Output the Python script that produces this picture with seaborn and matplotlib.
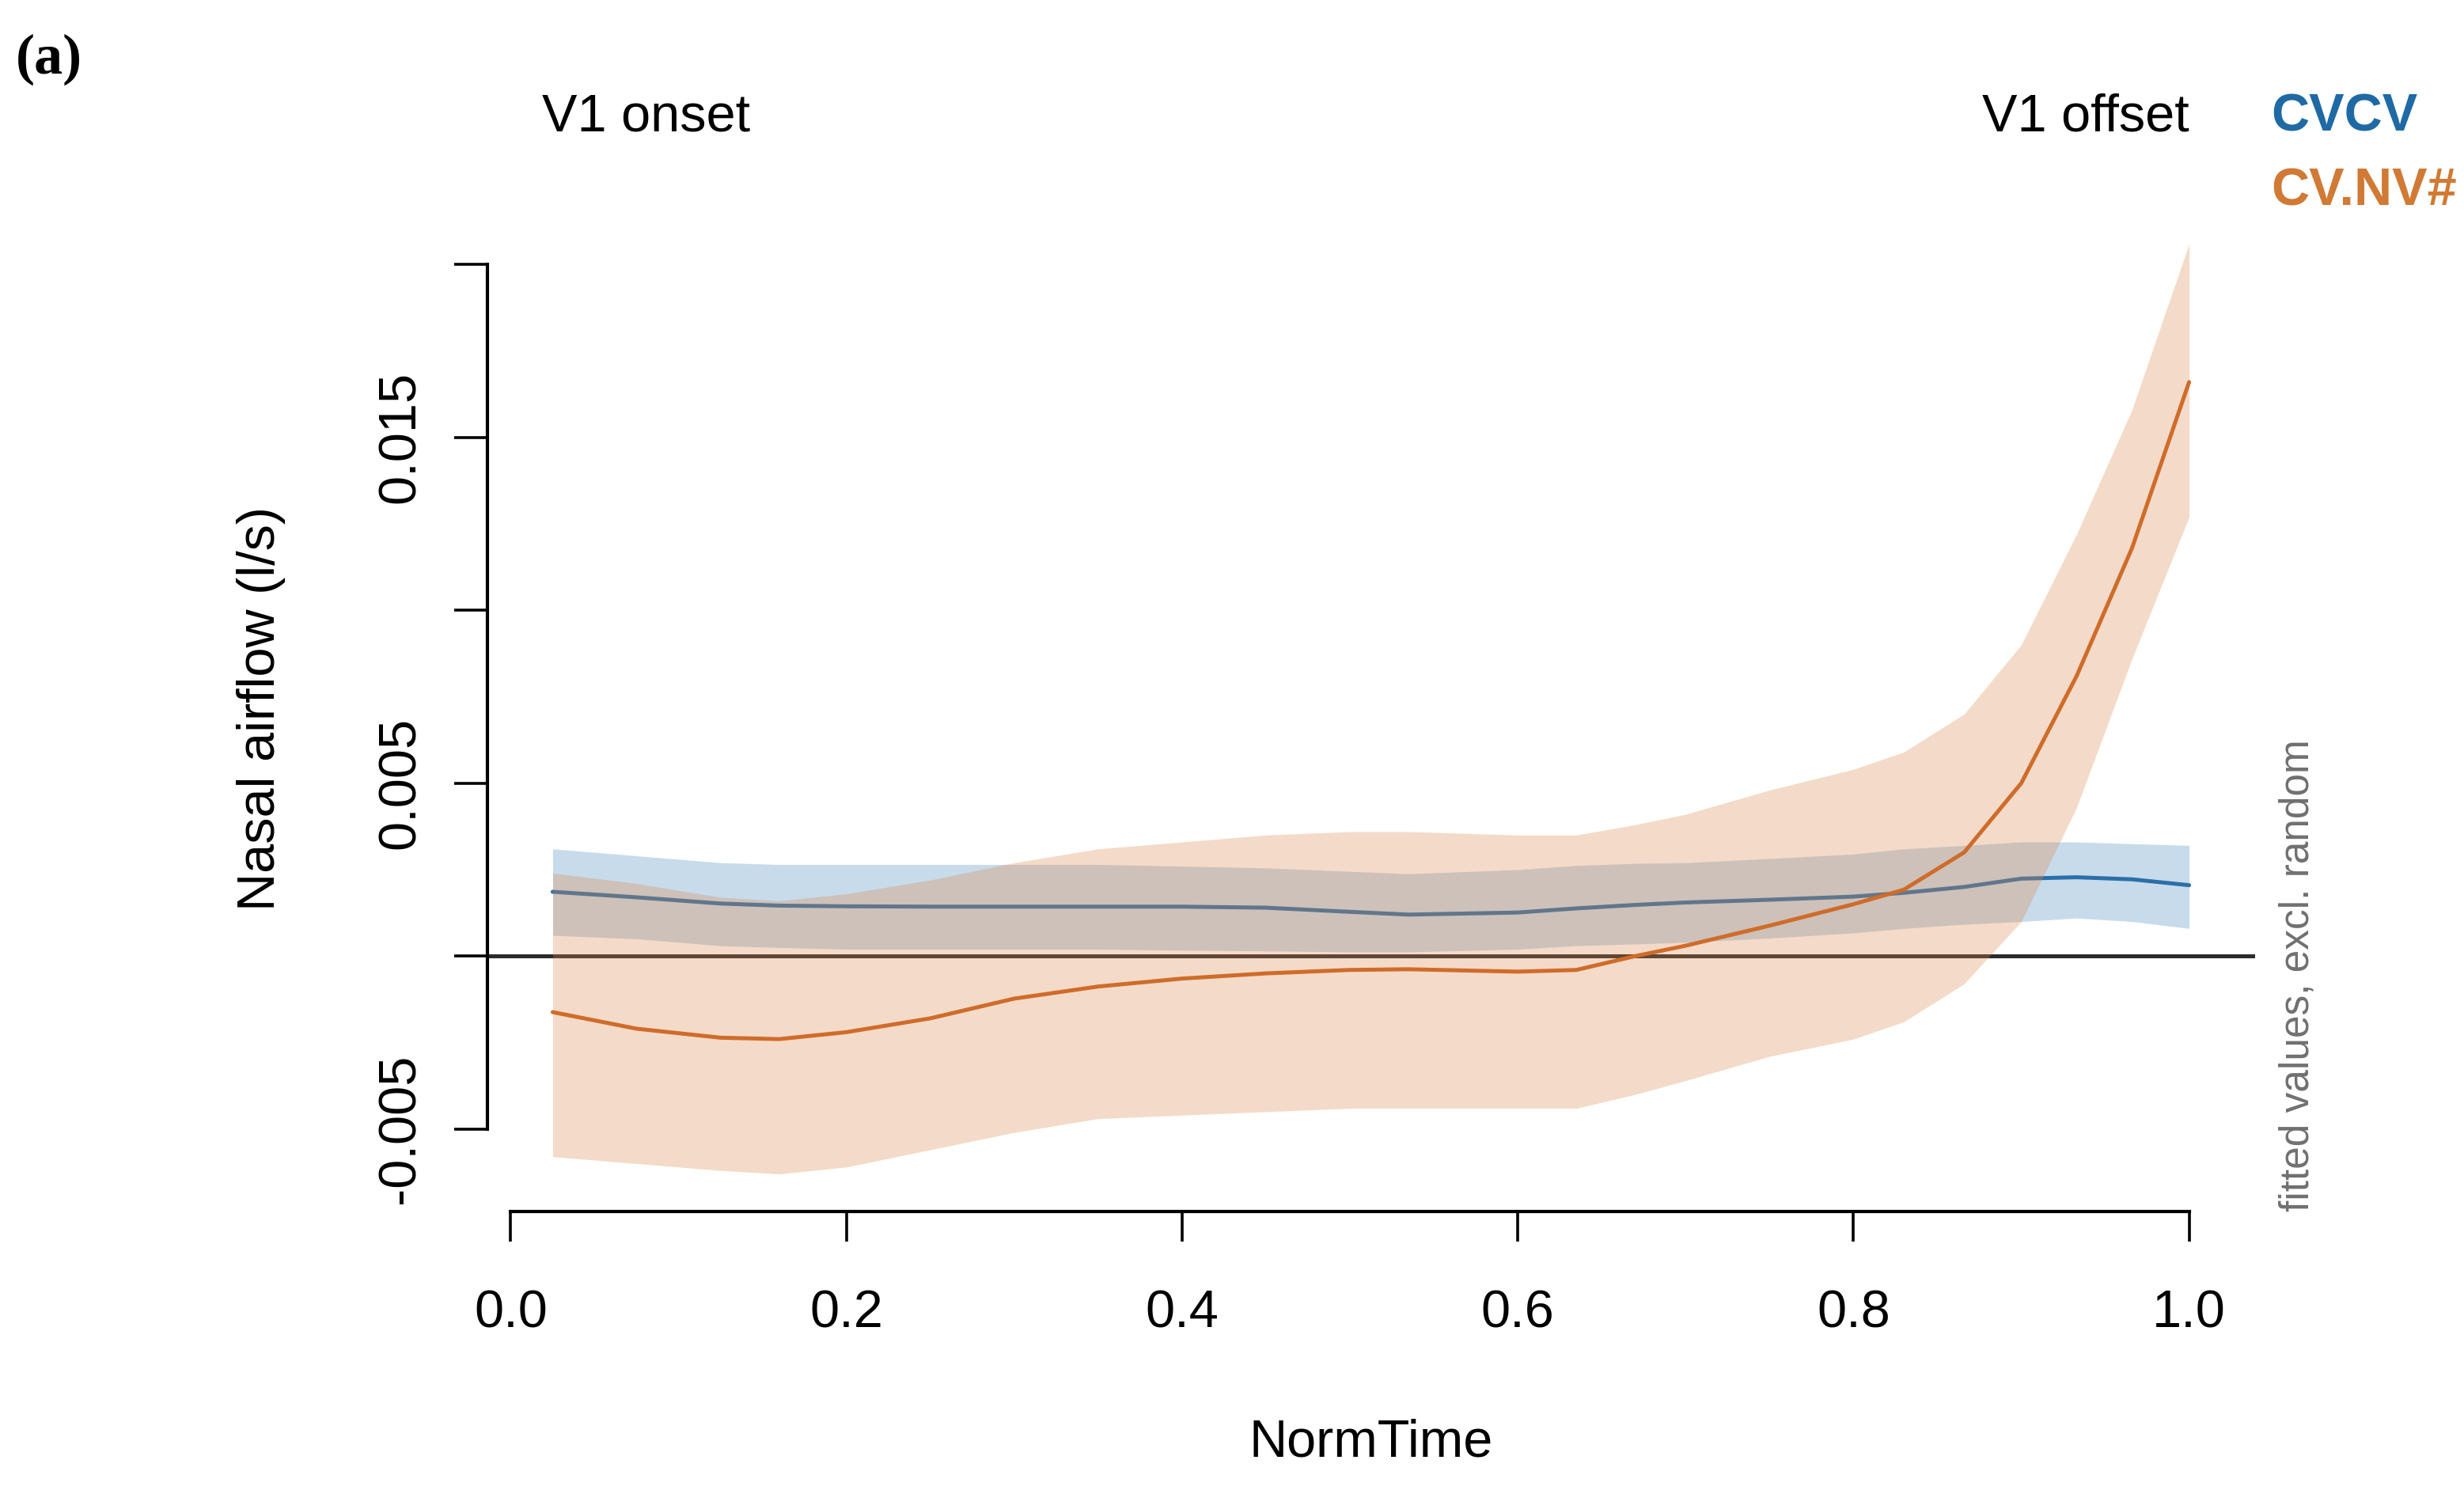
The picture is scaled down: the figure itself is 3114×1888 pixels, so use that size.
"""
Fitted nasal airflow over normalised V1 time, CVCV vs CV.NV# (GAMM smooths,
fitted values excluding random effects, with 95% CI bands).
"""
import numpy as np
import pandas as pd
import matplotlib
matplotlib.use("Agg")
import matplotlib.pyplot as plt
import seaborn as sns

# values
norm_time = [0.025, 0.075, 0.125, 0.16, 0.2, 0.25, 0.3, 0.35, 0.4, 0.45, 0.5, 0.535,
             0.6, 0.635, 0.67, 0.7, 0.75, 0.8, 0.83, 0.866, 0.9, 0.933, 0.966, 1.0]

cvcv_fit = [0.00186, 0.0017, 0.00152, 0.00146, 0.00144, 0.00143, 0.00143, 0.00143,
            0.00143, 0.0014, 0.00128, 0.0012, 0.00126, 0.00138, 0.00148, 0.00155,
            0.00163, 0.00172, 0.00183, 0.002, 0.00224, 0.00228, 0.00222, 0.00205]
cvcv_upper = [0.0031, 0.0029, 0.0027, 0.00265, 0.00265, 0.00265, 0.00265, 0.00265,
              0.0026, 0.00255, 0.00245, 0.00238, 0.0025, 0.00262, 0.00268, 0.0027,
              0.00282, 0.00295, 0.0031, 0.0032, 0.0033, 0.0033, 0.00325, 0.0032]
cvcv_lower = [0.0006, 0.0005, 0.0003, 0.00025, 0.0002, 0.0002, 0.0002, 0.0002,
              0.00017, 0.00015, 0.00012, 0.00012, 0.0002, 0.0003, 0.00035, 0.0004,
              0.00052, 0.00067, 0.0008, 0.00092, 0.001, 0.0011, 0.001, 0.0008]

cvnv_fit = [-0.00162, -0.0021, -0.00236, -0.0024, -0.0022, -0.0018, -0.00123, -0.00088,
            -0.00065, -0.0005, -0.0004, -0.00038, -0.00045, -0.0004, 0.0, 0.0003,
            0.00088, 0.0015, 0.00192, 0.003, 0.005, 0.0081, 0.0118, 0.0166]
cvnv_upper = [0.0024, 0.0021, 0.0017, 0.0016, 0.0018, 0.0022, 0.0027, 0.0031,
              0.0033, 0.0035, 0.0036, 0.0036, 0.0035, 0.0035, 0.0038, 0.0041,
              0.0048, 0.0054, 0.0059, 0.007, 0.009, 0.0122, 0.0158, 0.0206]
cvnv_lower = [-0.0058, -0.006, -0.0062, -0.0063, -0.0061, -0.0056, -0.0051, -0.0047,
              -0.0046, -0.0045, -0.0044, -0.0044, -0.0044, -0.0044, -0.004, -0.0036,
              -0.0029, -0.0024, -0.0019, -0.0008, 0.001, 0.0043, 0.0086, 0.0127]

y_ticks = [-0.005, 0.0, 0.005, 0.01, 0.015, 0.02]
y_tick_labels = ["-0.005", "", "0.005", "", "0.015", ""]
x_ticks = [0.0, 0.2, 0.4, 0.6, 0.8, 1.0]
x_tick_labels = ["0.0", "0.2", "0.4", "0.6", "0.8", "1.0"]

BLUE_LINE = "#2c6fa8"
BLUE_FILL = "#2070b0"
ORANGE_LINE = "#cf6c2a"
ORANGE_FILL = "#dc874b"

sns.set_style("white")
plt.rcParams["font.family"] = ["Liberation Sans", "DejaVu Sans"]
plt.rcParams["text.color"] = "black"
plt.rcParams["axes.labelcolor"] = "black"

df = pd.DataFrame({
    "NormTime": norm_time * 2,
    "fit": cvcv_fit + cvnv_fit,
    "cond": ["CVCV"] * len(norm_time) + ["CV.NV#"] * len(norm_time),
})

fig = plt.figure(figsize=(15.57, 9.44), dpi=200)
ax = fig.add_axes([0.1977, 0.189, 0.9152 - 0.1977, 0.8623 - 0.189])

ax.axhline(0, color="#2b2b2b", lw=1.8, zorder=1)

ax.fill_between(norm_time, cvcv_lower, cvcv_upper, color=BLUE_FILL, alpha=0.25,
                lw=0, zorder=2)
sns.lineplot(data=df[df["cond"] == "CVCV"], x="NormTime", y="fit", color=BLUE_LINE,
             lw=1.8, ax=ax, legend=False, errorbar=None, zorder=3)
ax.fill_between(norm_time, cvnv_lower, cvnv_upper, color=ORANGE_FILL, alpha=0.3,
                lw=0, zorder=4)
sns.lineplot(data=df[df["cond"] == "CV.NV#"], x="NormTime", y="fit", color=ORANGE_LINE,
             lw=1.8, ax=ax, legend=False, errorbar=None, zorder=5)

ax.set_xlim(-0.01404, 1.0393)
ax.set_ylim(-0.00739, 0.0217)

for side in ["top", "right"]:
    ax.spines[side].set_visible(False)
ax.spines["left"].set_bounds(-0.005, 0.02)
ax.spines["bottom"].set_bounds(0.0, 1.0)
for side in ["left", "bottom"]:
    ax.spines[side].set_linewidth(1.5)
    ax.spines[side].set_color("black")

ax.set_yticks(y_ticks)
ax.set_yticklabels(y_tick_labels, rotation=90, va="center")
ax.set_xticks(x_ticks)
ax.set_xticklabels(x_tick_labels)
ax.tick_params(axis="y", direction="out", length=15, width=1.3, pad=13,
               labelsize=24, colors="black", left=True)
ax.tick_params(axis="x", direction="out", length=13.5, width=1.3, pad=22,
               labelsize=24, colors="black", bottom=True)

ax.set_xlabel("NormTime", fontsize=24, va="center")
ax.xaxis.set_label_coords(0.5, -0.2297)
ax.set_ylabel("Nasal airflow (l/s)", fontsize=24, va="center")
ax.yaxis.set_label_coords(-0.128, 0.5)

ax.text(0.031, 1.0875, "V1 onset", transform=ax.transAxes, fontsize=24,
        ha="left", va="center")
ax.text(0.9627, 1.0875, "V1 offset", transform=ax.transAxes, fontsize=24,
        ha="right", va="center")
ax.text(1.0089, 1.0875, "CVCV", transform=ax.transAxes, fontsize=24,
        fontweight="bold", color="#1f6aa5", ha="left", va="center")
ax.text(1.0089, 1.014, "CV.NV#", transform=ax.transAxes, fontsize=24,
        fontweight="bold", color="#d07a35", ha="left", va="center")
ax.text(1.024, 0.0, "fitted values, excl. random", transform=ax.transAxes,
        fontsize=18.5, color="#707070", rotation=90, ha="center", va="bottom")

fig.text(0.0065, 0.96, "(a)", fontsize=26, fontweight="bold",
         family=["Liberation Serif", "DejaVu Serif"], ha="left", va="center")

fig.savefig("out.png", dpi=200)
